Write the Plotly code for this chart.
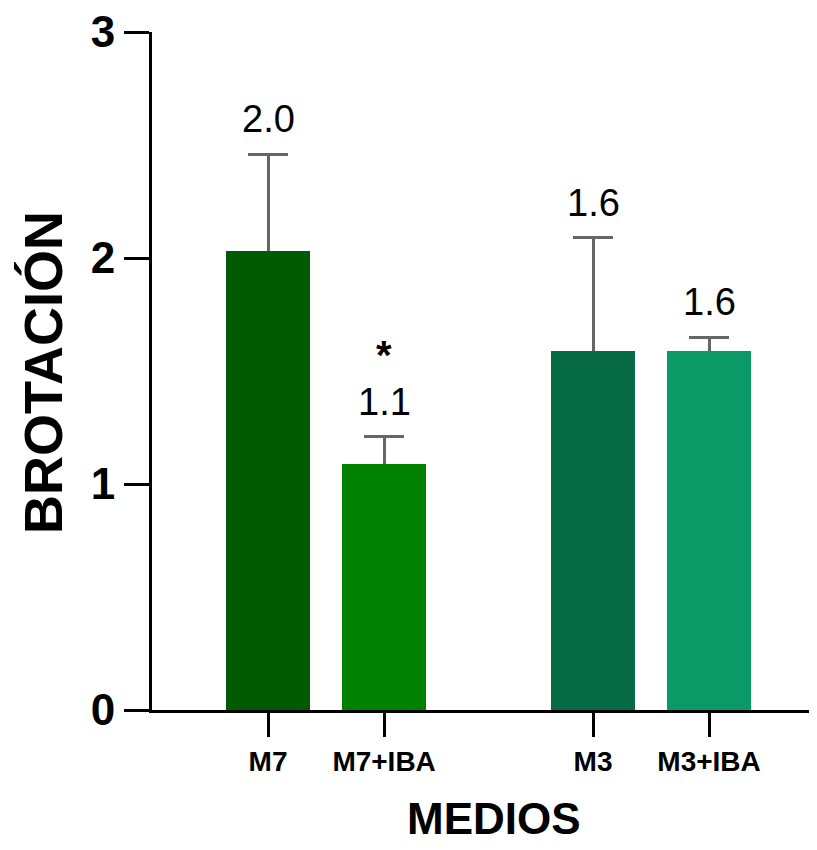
import plotly.graph_objects as go

categories = ["M7", "M7+IBA", "M3", "M3+IBA"]
groups = [0, 0, 1, 1]
values = [2.03, 1.09, 1.59, 1.59]
errors = [0.43, 0.12, 0.50, 0.06]
labels = ["2.0", "1.1", "1.6", "1.6"]
marks = ["", "*", "", ""]
colors = ["#015a01", "#008000", "#066b45", "#0b9a67"]
yticks = [0, 1, 2, 3]
x_title = "MEDIOS"
y_title = "BROTACIÓN"

group_gap = 0.8
xpos = [i + group_gap * g for i, g in enumerate(groups)]

fig = go.Figure()
# error bars (lower cap hidden under the bars drawn next)
fig.add_trace(go.Bar(
    x=xpos, y=values, width=0.724,
    marker=dict(color=colors, line=dict(width=0)),
    error_y=dict(type="data", symmetric=False, array=errors,
                 arrayminus=[0.1] * len(errors), color="#666666",
                 thickness=3, width=20),
    showlegend=False, hoverinfo="skip",
))
fig.add_trace(go.Bar(
    x=xpos, y=values, width=0.724,
    marker=dict(color=colors, line=dict(width=0)),
    showlegend=False, hoverinfo="skip",
))

for x, v, e, lab, m in zip(xpos, values, errors, labels, marks):
    fig.add_annotation(x=x, y=v + e, text=lab, showarrow=False,
                       yanchor="bottom", yshift=12,
                       font=dict(family="Liberation Sans, Arial", size=38, color="black"))
    if m:
        fig.add_annotation(x=x, y=v + e, text="<b>" + m + "</b>", showarrow=False,
                           yanchor="bottom", yshift=58,
                           font=dict(family="Liberation Sans, Arial", size=40, color="black"))

# axis titles
fig.add_annotation(xref="paper", yref="paper", x=0.514, y=0, yshift=-108,
                   xanchor="center", yanchor="middle", showarrow=False,
                   text="<b>" + x_title + "</b>",
                   font=dict(family="Liberation Sans, Arial", size=44, color="black"))
fig.add_annotation(xref="paper", yref="paper", x=0, y=0.5, xshift=-109, yshift=-2,
                   xanchor="center", yanchor="middle", showarrow=False, textangle=-90,
                   text="<b>" + y_title + "</b>",
                   font=dict(family="Liberation Sans, Arial", size=54, color="black"))

fig.update_layout(
    width=809, height=834,
    margin=dict(l=144, r=0, t=24, b=132),
    paper_bgcolor="white", plot_bgcolor="white",
    bargap=0, barmode="overlay",
)
fig.update_xaxes(
    range=[xpos[0] - 1, xpos[0] + 4.73],
    tickvals=xpos, ticktext=categories,
    showline=True, linewidth=3, linecolor="black",
    ticks="outside", ticklen=24, tickwidth=3, tickcolor="black",
    showgrid=False, zeroline=False,
    tickfont=dict(family="Liberation Sans, Arial", size=28, color="black", weight="bold"),
)
fig.update_yaxes(
    range=[0, 3], tickvals=yticks, ticklabeloverflow="allow",
    showline=True, linewidth=3, linecolor="black",
    ticks="outside", ticklen=25, tickwidth=3, tickcolor="black",
    showgrid=False, zeroline=False,
    tickfont=dict(family="Liberation Sans, Arial", size=44, color="black", weight="bold"),
)

fig.write_html("out.html")
